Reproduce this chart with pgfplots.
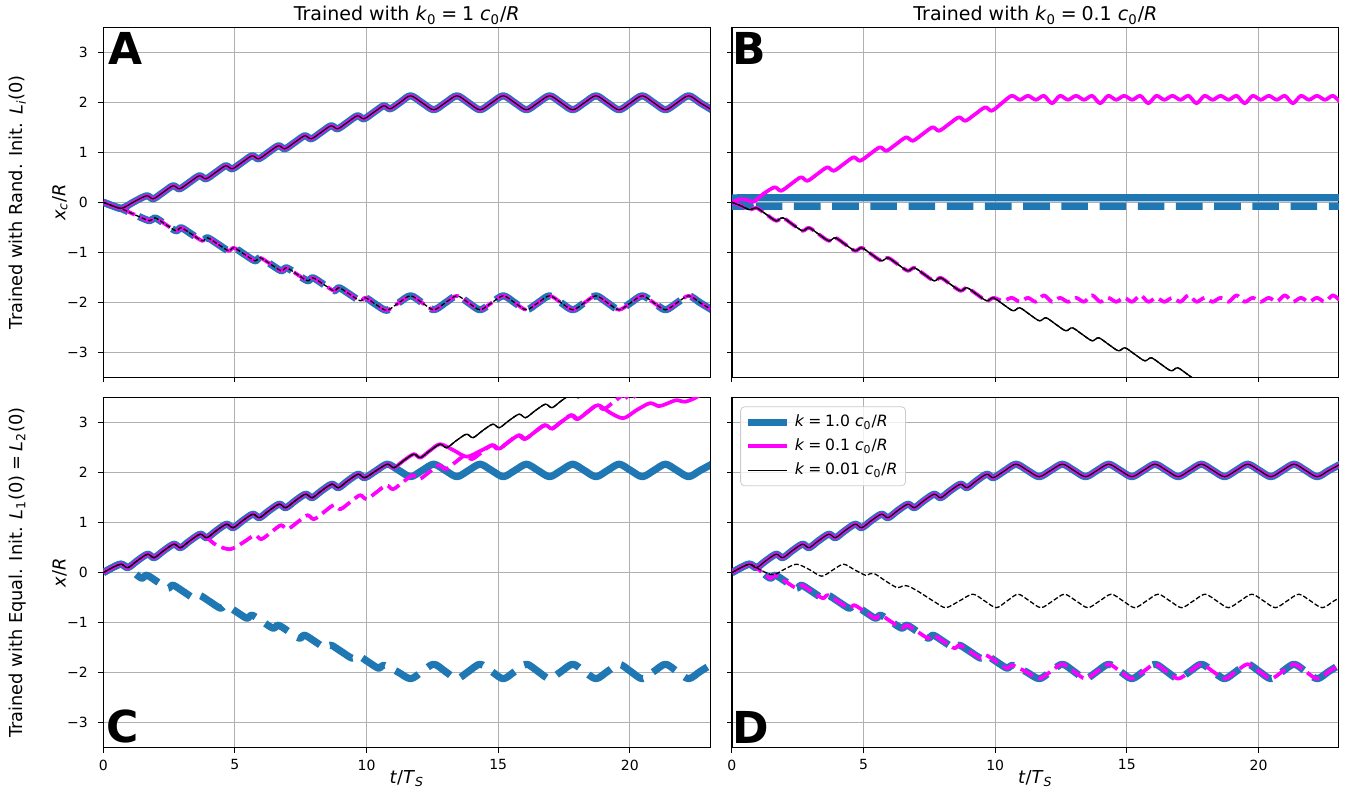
\documentclass[border=0pt]{standalone}
\usepackage{fontspec}
\setmainfont{DejaVu Sans}
\usepackage{pgfplots}
\usepackage{pgfplotstable}
\pgfplotsset{compat=1.18}
\usepgfplotslibrary{groupplots}
\definecolor{cA}{HTML}{1F77B4}
\definecolor{cM}{HTML}{FF00FF}
\definecolor{gridc}{HTML}{B0B0B0}
\definecolor{legc}{HTML}{CCCCCC}
\newcommand{\vi}[1]{\textit{#1}}
\newcommand{\sub}[1]{\textsubscript{#1}}
\newcommand{\eq}{\hspace{0.25em}=\hspace{0.25em}}
\newcommand{\lab}{\fontsize{8.9}{10.5}\selectfont}
\newcommand{\ttl}{\fontsize{9.5}{11}\selectfont}
\newcommand{\legf}{\fontsize{7.8}{9.2}\selectfont}
\newcommand{\panelfont}{\fontsize{22}{22}\selectfont\bfseries}

\pgfplotstableread{
t y
0 0
0.35 -0.07
0.7 -0.12
1.2 0.02
1.65 0.13
1.9 0.07
2.275 0.20
2.65 0.33
2.9 0.27
3.275 0.40
3.65 0.53
3.9 0.47
4.275 0.60
4.65 0.73
4.9 0.67
5.275 0.80
5.65 0.93
5.9 0.87
6.275 1.00
6.65 1.13
6.9 1.07
7.275 1.20
7.65 1.33
7.9 1.27
8.275 1.40
8.65 1.53
8.9 1.47
9.275 1.60
9.65 1.73
9.9 1.67
10.275 1.80
10.65 1.93
10.9 1.87
11.28 2.00
11.67 2.13
12.11 1.99
12.55 1.85
12.99 1.99
13.43 2.13
13.87 1.99
14.31 1.85
14.75 1.99
15.19 2.13
15.63 1.99
16.07 1.85
16.51 1.99
16.95 2.13
17.39 1.99
17.83 1.85
18.27 1.99
18.71 2.13
19.15 1.99
19.59 1.85
20.03 1.99
20.47 2.13
20.91 1.99
21.35 1.85
21.79 1.99
22.23 2.13
22.67 1.99
23.11 1.85
}\AU
\pgfplotstableread{
t y
0 0
0.35 -0.07
0.7 -0.13
1.2 -0.25
1.76 -0.37
1.96 -0.31
2.36 -0.44
2.76 -0.57
2.96 -0.51
3.36 -0.64
3.76 -0.77
3.96 -0.71
4.36 -0.84
4.76 -0.97
4.96 -0.91
5.36 -1.04
5.76 -1.17
5.96 -1.11
6.36 -1.24
6.76 -1.37
6.96 -1.31
7.36 -1.44
7.76 -1.57
7.96 -1.51
8.36 -1.64
8.76 -1.77
8.96 -1.71
9.36 -1.84
9.76 -1.97
9.96 -1.91
10.37 -2.05
10.77 -2.16
11.22 -2.01
11.67 -1.87
12.11 -2.01
12.55 -2.15
12.99 -2.01
13.43 -1.87
13.87 -2.01
14.31 -2.15
14.75 -2.01
15.19 -1.87
15.63 -2.01
16.07 -2.15
16.51 -2.01
16.95 -1.87
17.39 -2.01
17.83 -2.15
18.27 -2.01
18.71 -1.87
19.15 -2.01
19.59 -2.15
20.03 -2.01
20.47 -1.87
20.91 -2.01
21.35 -2.15
21.79 -2.01
22.23 -1.87
22.67 -2.01
23.11 -2.15
}\AL
\pgfplotstableread{
t y
0 0
0.3 0.045
0.7 0.075
1.2 0.09
23.1 0.09
}\BBU
\pgfplotstableread{
t y
0 0
0.3 -0.04
0.7 -0.07
1.2 -0.08
23.1 -0.08
}\BBL
\pgfplotstableread{
t y
0 0
0.3 0.06
0.55 0.05
0.82 0.01
1.2 0.17
1.62 0.30
1.87 0.23
2.245 0.365
2.62 0.50
2.87 0.43
3.245 0.565
3.62 0.70
3.87 0.63
4.245 0.765
4.62 0.90
4.87 0.83
5.245 0.965
5.62 1.10
5.87 1.03
6.245 1.165
6.62 1.30
6.87 1.23
7.245 1.365
7.62 1.50
7.87 1.43
8.245 1.565
8.62 1.70
8.87 1.63
9.245 1.765
9.62 1.90
9.87 1.83
10.245 1.98
10.63 2.13
10.935 2.05
11.24 2.13
11.545 2.05
11.85 2.13
12.155 1.98
12.46 2.13
12.765 2.05
13.07 2.13
13.375 2.05
13.68 2.13
13.985 1.98
14.29 2.13
14.595 2.05
14.90 2.13
15.205 2.05
15.51 2.13
15.815 1.98
16.12 2.13
16.425 2.05
16.73 2.13
17.035 2.05
17.34 2.13
17.645 1.98
17.95 2.13
18.255 2.05
18.56 2.13
18.865 2.05
19.17 2.13
19.475 1.98
19.78 2.13
20.085 2.05
20.39 2.13
20.695 2.05
21.00 2.13
21.305 1.98
21.61 2.13
21.915 2.05
22.22 2.13
22.525 2.05
22.83 2.13
23.135 1.98
}\BMU
\pgfplotstableread{
t y
0 0
0.34 -0.07
0.68 -0.15
0.93 -0.11
1.3 -0.24
1.68 -0.37
1.93 -0.31
2.3 -0.44
2.68 -0.57
2.93 -0.51
3.3 -0.64
3.68 -0.77
3.93 -0.71
4.3 -0.84
4.68 -0.97
4.93 -0.91
5.3 -1.04
5.68 -1.17
5.93 -1.11
6.3 -1.24
6.68 -1.37
6.93 -1.31
7.3 -1.44
7.68 -1.57
7.93 -1.51
8.3 -1.64
8.68 -1.77
8.93 -1.71
9.3 -1.84
9.68 -1.97
9.93 -1.91
10.3 -2.04
10.68 -2.17
10.93 -2.11
11.3 -2.24
11.68 -2.37
11.93 -2.31
12.3 -2.44
12.68 -2.57
12.93 -2.51
13.3 -2.64
13.68 -2.77
13.93 -2.71
14.3 -2.84
14.68 -2.97
14.93 -2.91
15.3 -3.04
15.68 -3.17
15.93 -3.11
16.3 -3.24
16.68 -3.37
16.93 -3.31
17.3 -3.44
17.68 -3.57
17.93 -3.51
18.3 -3.64
}\BL
\pgfplotstableread{
t y
0 0
0.34 -0.07
0.68 -0.15
0.93 -0.11
1.3 -0.24
1.68 -0.37
1.93 -0.31
2.3 -0.44
2.68 -0.57
2.93 -0.51
3.3 -0.64
3.68 -0.77
3.93 -0.71
4.3 -0.84
4.68 -0.97
4.93 -0.91
5.3 -1.04
5.68 -1.17
5.93 -1.11
6.3 -1.24
6.68 -1.37
6.93 -1.31
7.3 -1.44
7.68 -1.57
7.93 -1.51
8.3 -1.64
8.68 -1.77
8.93 -1.71
9.3 -1.84
9.68 -1.97
9.93 -1.91
10.3 -1.97
10.63 -1.91
10.935 -1.99
11.24 -1.91
11.545 -1.99
11.85 -1.86
12.155 -1.99
12.46 -1.91
12.765 -1.99
13.07 -1.91
13.375 -1.99
13.68 -1.86
13.985 -1.99
14.29 -1.91
14.595 -1.99
14.90 -1.91
15.205 -1.99
15.51 -1.86
15.815 -1.99
16.12 -1.91
16.425 -1.99
16.73 -1.91
17.035 -1.99
17.34 -1.86
17.645 -1.99
17.95 -1.91
18.255 -1.99
18.56 -1.91
18.865 -1.99
19.17 -1.86
19.475 -1.99
19.78 -1.91
20.085 -1.99
20.39 -1.91
20.695 -1.99
21.00 -1.86
21.305 -1.99
21.61 -1.91
21.915 -1.99
22.22 -1.91
22.525 -1.99
22.83 -1.86
23.135 -1.99
}\BML
\pgfplotstableread{
t y
0 0
0.34 0.1
0.68 0.17
0.93 0.10
1.28 0.235
1.68 0.37
1.93 0.30
2.28 0.435
2.68 0.57
2.93 0.50
3.28 0.635
3.68 0.77
3.93 0.70
4.28 0.835
4.68 0.97
4.93 0.90
5.28 1.035
5.68 1.17
5.93 1.10
6.28 1.235
6.68 1.37
6.93 1.30
7.28 1.435
7.68 1.57
7.93 1.50
8.28 1.635
8.68 1.77
8.93 1.70
9.28 1.835
9.68 1.97
9.93 1.90
10.36 2.04
10.79 2.17
11.23 2.045
11.67 1.92
12.11 2.045
12.55 2.17
12.99 2.045
13.43 1.92
13.87 2.045
14.31 2.17
14.75 2.045
15.19 1.92
15.63 2.045
16.07 2.17
16.51 2.045
16.95 1.92
17.39 2.045
17.83 2.17
18.27 2.045
18.71 1.92
19.15 2.045
19.59 2.17
20.03 2.045
20.47 1.92
20.91 2.045
21.35 2.17
21.79 2.045
22.23 1.92
22.67 2.045
23.11 2.17
}\DU
\pgfplotstableread{
t y
0 0
0.34 0.1
0.68 0.17
1.05 0.05
1.45 -0.11
1.65 -0.05
2.05 -0.18
2.45 -0.31
2.65 -0.25
3.05 -0.38
3.45 -0.51
3.65 -0.45
4.05 -0.58
4.45 -0.71
4.65 -0.65
5.05 -0.78
5.45 -0.91
5.65 -0.85
6.05 -0.98
6.45 -1.11
6.65 -1.05
7.05 -1.18
7.45 -1.31
7.65 -1.25
8.05 -1.38
8.45 -1.51
8.65 -1.45
9.05 -1.58
9.45 -1.71
9.65 -1.65
10.05 -1.78
10.45 -1.91
10.65 -1.85
11.17 -1.98
11.67 -2.12
12.11 -1.975
12.55 -1.83
12.99 -1.975
13.43 -2.12
13.87 -1.975
14.31 -1.83
14.75 -1.975
15.19 -2.12
15.63 -1.975
16.07 -1.83
16.51 -1.975
16.95 -2.12
17.39 -1.975
17.83 -1.83
18.27 -1.975
18.71 -2.12
19.15 -1.975
19.59 -1.83
20.03 -1.975
20.47 -2.12
20.91 -1.975
21.35 -1.83
21.79 -1.975
22.23 -2.12
22.67 -1.975
23.11 -1.83
}\DL
\pgfplotstableread{
t y
0 0
0.34 0.1
0.68 0.17
1.0 0.08
1.3 0.0
1.6 -0.04
2.0 0.07
2.46 0.17
2.95 0.06
3.41 -0.07
3.85 0.06
4.24 0.17
4.65 0.06
5.07 -0.05
5.25 -0.02
5.45 -0.03
5.85 -0.17
6.28 -0.30
6.5 -0.26
6.7 -0.27
7.0 -0.35
7.36 -0.47
7.75 -0.60
8.13 -0.70
8.64 -0.565
9.15 -0.43
9.6 -0.565
10.04 -0.70
10.45 -0.565
10.87 -0.43
11.3 -0.565
11.74 -0.70
12.185 -0.565
12.63 -0.43
13.075 -0.565
13.52 -0.70
13.965 -0.565
14.41 -0.43
14.855 -0.565
15.30 -0.70
15.745 -0.565
16.19 -0.43
16.635 -0.565
17.08 -0.70
17.525 -0.565
17.97 -0.43
18.415 -0.565
18.86 -0.70
19.305 -0.565
19.75 -0.43
20.195 -0.565
20.64 -0.70
21.085 -0.565
21.53 -0.43
21.975 -0.565
22.42 -0.70
22.865 -0.565
23.31 -0.43
}\DK
\pgfplotstableread{
t y
0 0
0.34 0.1
0.68 0.17
0.93 0.10
1.28 0.235
1.68 0.37
1.93 0.30
2.28 0.435
2.68 0.57
2.93 0.50
3.28 0.635
3.68 0.77
3.93 0.70
4.28 0.835
4.68 0.97
4.93 0.90
5.28 1.035
5.68 1.17
5.93 1.10
6.28 1.235
6.68 1.37
6.93 1.30
7.28 1.435
7.68 1.57
7.93 1.50
8.28 1.635
8.68 1.77
8.93 1.70
9.28 1.835
9.68 1.97
9.93 1.90
10.36 2.04
10.79 2.17
11.04 2.10
11.39 2.235
11.79 2.37
12.04 2.30
12.39 2.435
12.79 2.57
13.04 2.50
13.39 2.635
13.79 2.77
14.04 2.70
14.39 2.835
14.79 2.97
15.04 2.90
15.39 3.035
15.79 3.17
16.04 3.10
16.39 3.235
16.79 3.37
17.04 3.30
17.39 3.435
17.79 3.57
18.04 3.50
18.39 3.635
18.79 3.77
}\CK
\pgfplotstableread{
t y
0 0
0.34 0.1
0.68 0.17
0.93 0.10
1.28 0.235
1.68 0.37
1.93 0.30
2.28 0.435
2.68 0.57
2.93 0.50
3.28 0.635
3.68 0.77
3.93 0.70
4.28 0.835
4.68 0.97
4.93 0.90
5.28 1.035
5.68 1.17
5.93 1.10
6.28 1.235
6.68 1.37
6.93 1.30
7.28 1.435
7.68 1.57
7.93 1.50
8.28 1.635
8.68 1.77
8.93 1.70
9.28 1.835
9.68 1.97
9.93 1.90
10.36 2.04
10.79 2.17
11.04 2.10
11.39 2.235
11.79 2.37
12.04 2.30
12.39 2.435
12.79 2.57
13.3 2.45
13.8 2.32
14.3 2.43
14.79 2.55
15.04 2.48
15.39 2.615
15.79 2.75
16.04 2.68
16.39 2.815
16.79 2.95
17.04 2.88
17.39 3.015
17.79 3.15
18.04 3.08
18.39 3.215
18.79 3.35
19.25 3.2
19.75 3.09
20.25 3.25
20.76 3.39
21.1 3.33
21.4 3.38
21.76 3.45
22.1 3.42
22.5 3.5
22.76 3.58
23.1 3.62
}\CMU
\pgfplotstableread{
t y
0 0
0.34 0.1
0.68 0.17
0.93 0.10
1.28 0.235
1.68 0.37
1.93 0.30
2.28 0.435
2.68 0.57
2.93 0.50
3.28 0.635
3.68 0.77
3.93 0.70
4.3 0.55
4.82 0.47
5.3 0.6
5.75 0.75
6.0 0.67
6.375 0.81
6.75 0.95
7.0 0.87
7.375 1.01
7.75 1.15
8.0 1.07
8.375 1.21
8.75 1.35
9.0 1.27
9.375 1.41
9.75 1.55
10.0 1.47
10.375 1.61
10.75 1.75
11.0 1.67
11.375 1.81
11.75 1.95
12.0 1.87
12.375 2.01
12.75 2.15
13.0 2.07
13.375 2.21
13.75 2.35
14.0 2.27
14.375 2.41
14.75 2.55
15.0 2.47
15.375 2.61
15.75 2.75
16.0 2.67
16.375 2.81
16.75 2.95
17.0 2.87
17.375 3.01
17.75 3.15
18.0 3.07
18.375 3.21
18.75 3.35
19.0 3.27
19.375 3.41
19.75 3.55
20.0 3.47
20.375 3.61
}\CML

\tikzset{
 kone/.style={color=cA, line width=3.6pt, line join=round},
 kpt/.style={color=cM, line width=1.85pt, line join=round},
 kpp/.style={color=black, line width=0.65pt, line join=round},
 dA/.style={dash pattern=on 13.3pt off 5.8pt},
 dB/.style={dash pattern=on 7pt off 3pt},
 dC/.style={dash pattern=on 2.4pt off 1.05pt},
}

\begin{document}
\begin{tikzpicture}
\begin{groupplot}[
  group style={group size=2 by 2, horizontal sep=10.85pt, vertical sep=10.2pt},
  width=303.45pt, height=175pt, scale only axis,
  xmin=0, xmax=23.05, ymin=-3.5, ymax=3.5,
  xtick={0,5,10,15,20}, ytick={-3,-2,-1,0,1,2,3},
  grid=major, grid style={gridc, line width=0.5pt},
  tick align=outside, tick pos=left, major tick length=2.45pt,
  tick style={black, line width=0.5pt},
  axis line style={line width=0.6pt},
  tick label style={font=\fontsize{7}{8.4}\selectfont},
  yticklabel style={xshift=-1.8pt},
  clip mode=individual,
  every axis plot/.append style={smooth, tension=0.5},
]
\nextgroupplot[xticklabels={}, yticklabels={−3,−2,−1,0,1,2,3}]
\addplot[kone] table[x=t,y=y]{\AU};
\addplot[kone,dA] table[x=t,y=y]{\AL};
\addplot[kpt] table[x=t,y=y]{\AU};
\addplot[kpt,dB] table[x=t,y=y]{\AL};
\addplot[kpp] table[x=t,y=y]{\AU};
\addplot[kpp,dC] table[x=t,y=y]{\AL};
\node[anchor=base, font=\ttl, yshift=3.3pt] at (rel axis cs:0.5,1) {Trained with \vi{k}\sub{0}\eq1 \vi{c}\sub{0}/\vi{R}};
\node[anchor=base west, inner sep=0pt, font=\panelfont, xshift=2.2pt, yshift=-18.75pt] at (rel axis cs:0,1) {A};
\node[xshift=-21.7pt, rotate=90, anchor=center, font=\lab] at (rel axis cs:0,0.5) {\vi{x}\sub{\vi{c}}/\vi{R}};
\node[xshift=-42.9pt, rotate=90, anchor=center, font=\lab] at (rel axis cs:0,0.5) {Trained with Rand. Init. \vi{L}\sub{\vi{i}}(0)};
\nextgroupplot[xticklabels={}, yticklabels={}]
\addplot[kone] table[x=t,y=y]{\BBU};
\addplot[kone,dA] table[x=t,y=y]{\BBL};
\addplot[kpt] table[x=t,y=y]{\BMU};
\addplot[kpt,dB] table[x=t,y=y]{\BML};
\addplot[kpp] table[x=t,y=y]{\BL};
\addplot[kpp,dC] table[x=t,y=y]{\BL};
\node[anchor=base, font=\ttl, yshift=3.3pt] at (rel axis cs:0.5,1) {Trained with \vi{k}\sub{0}\eq0.1 \vi{c}\sub{0}/\vi{R}};
\node[anchor=base west, inner sep=0pt, font=\panelfont, xshift=0.3pt, yshift=-18.75pt] at (rel axis cs:0,1) {B};
\nextgroupplot[xticklabels={0,5,10,15,20}, yticklabels={−3,−2,−1,0,1,2,3}]
\addplot[kone] table[x=t,y=y]{\DU};
\addplot[kone,dA] table[x=t,y=y]{\DL};
\addplot[kpt] table[x=t,y=y]{\CMU};
\addplot[kpt,dB] table[x=t,y=y]{\CML};
\addplot[kpp] table[x=t,y=y]{\CK};
\addplot[kpp,dC] table[x=t,y=y]{\CK};
\node[anchor=base west, inner sep=0pt, font=\panelfont, xshift=1.3pt, yshift=2.85pt] at (rel axis cs:0,0) {C};
\node[xshift=-21.7pt, rotate=90, anchor=center, font=\lab] at (rel axis cs:0,0.5) {\vi{x}/\vi{R}};
\node[xshift=-42.9pt, rotate=90, anchor=center, font=\lab] at (rel axis cs:0,0.5) {Trained with Equal. Init. \vi{L}\sub{1}(0)\eq\vi{L}\sub{2}(0)};
\node[anchor=base, font=\lab, yshift=-18pt] at (rel axis cs:0.5,0) {\vi{t}/\vi{T}\sub{\vi{S}}};
\nextgroupplot[xticklabels={0,5,10,15,20}, yticklabels={},
  legend style={at={(0.0137,0.975)}, anchor=north west, draw=legc, rounded corners=2pt,
    fill=white, fill opacity=0.8, text opacity=1, font=\legf, inner sep=2pt, row sep=0.6pt},
  legend cell align=left,
  legend image code/.code={\draw[#1] (0pt,0pt) -- (19.5pt,0pt);}]
\addplot[kone, forget plot] table[x=t,y=y]{\DU};
\addplot[kone,dA, forget plot] table[x=t,y=y]{\DL};
\addplot[kpt, forget plot] table[x=t,y=y]{\DU};
\addplot[kpt,dB, forget plot] table[x=t,y=y]{\DL};
\addplot[kpp, forget plot] table[x=t,y=y]{\DU};
\addplot[kpp,dC, forget plot] table[x=t,y=y]{\DK};
\addlegendimage{kone}
\addlegendentry{\vi{k}\eq1.0 \vi{c}\sub{0}/\vi{R}}
\addlegendimage{kpt}
\addlegendentry{\vi{k}\eq0.1 \vi{c}\sub{0}/\vi{R}}
\addlegendimage{kpp}
\addlegendentry{\vi{k}\eq0.01 \vi{c}\sub{0}/\vi{R}}
\node[anchor=base west, inner sep=0pt, font=\panelfont, xshift=0.3pt, yshift=2.35pt] at (rel axis cs:0,0) {D};
\node[anchor=base, font=\lab, yshift=-18pt] at (rel axis cs:0.5,0) {\vi{t}/\vi{T}\sub{\vi{S}}};
\end{groupplot}
\pgfresetboundingbox
\path[use as bounding box] ([shift={(-51.65pt,13.65pt)}]group c1r1.north west) rectangle ([shift={(4.6pt,-24.15pt)}]group c2r2.south east);
\end{tikzpicture}
\end{document}
